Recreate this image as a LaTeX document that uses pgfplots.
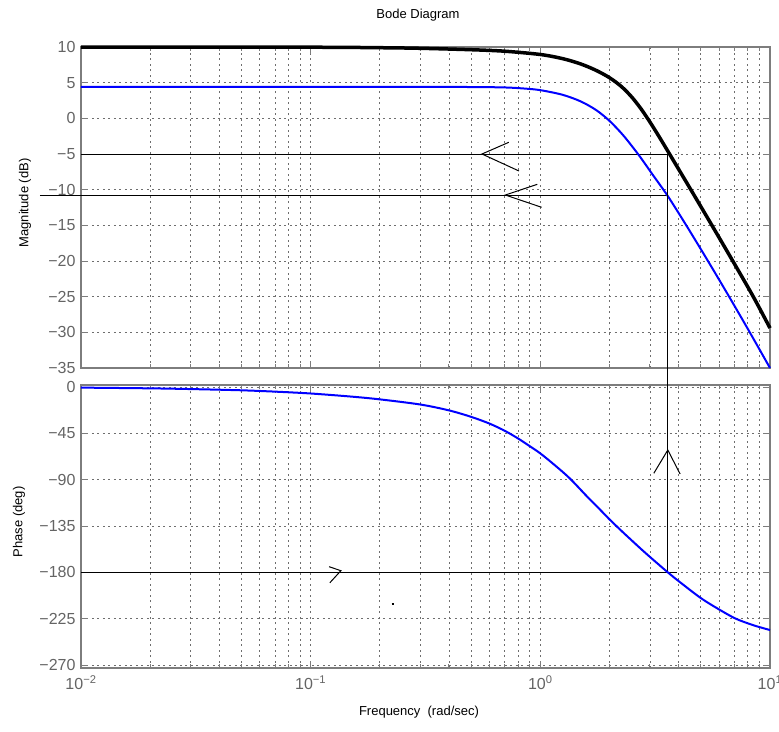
\documentclass[border=0pt]{standalone}
\usepackage{fontspec}
\setmainfont{Liberation Sans}
\usepackage{pgfplots}
\pgfplotsset{compat=1.18}

\definecolor{mblue}{RGB}{0,0,255}
\definecolor{tickgray}{RGB}{100,100,100}
\definecolor{boxgray}{RGB}{125,125,125}
\definecolor{gridgray}{RGB}{110,110,110}

\tikzset{note/.style={black, line width=1pt}}

\begin{document}
\begin{tikzpicture}
\path[use as bounding box] (0,0) rectangle (779pt,-731pt);

% magnitude
\begin{axis}[
    scale only axis, anchor=north west,
    at={(81pt,-47pt)}, width=689pt, height=321pt,
    xmode=log, xmin=0.01, xmax=10,
    xtick={0.01,0.1,1,10},
    minor xtick={0.02,0.03,0.04,0.05,0.06,0.07,0.08,0.09,
                 0.2,0.3,0.4,0.5,0.6,0.7,0.8,0.9,
                 2,3,4,5,6,7,8,9},
    xticklabels={},
    ymin=-35, ymax=10,
    ytick={-35,-30,-25,-20,-15,-10,-5,0,5,10},
    yticklabels={−35,−30,−25,−20,−15,−10,−5,0,5,10},
    axis line style={boxgray, line width=1.2pt},
    tick align=inside, tick pos=both,
    major tick length=7pt, minor tick length=4pt,
    tick style={boxgray, line width=0.9pt},
    xmajorgrids, xminorgrids, ymajorgrids,
    major grid style={gridgray, line width=0.8pt, dash pattern=on 2pt off 3.5pt},
    minor grid style={gridgray, line width=0.8pt, dash pattern=on 2pt off 3.5pt},
    ticklabel style={font=\fontsize{16}{19}\selectfont, text=tickgray},
    yticklabel style={xshift=-2pt},
    clip=false,
  ]
  \addplot[note] coordinates {(0.01,-5) (3.59,-5)};
  \addplot[note] coordinates {(0.00662,-10.75) (3.59,-10.75)};
  \addplot[note] coordinates {(3.59,-5) (3.59,-35)};
  \addplot[note] coordinates {(0.729,-3.36) (0.557,-5) (0.807,-7.38)};
  \addplot[note] coordinates {(0.970,-9.25) (0.704,-10.75) (1.013,-12.47)};

  \addplot[mblue, line width=2pt, smooth] coordinates {
    (0.01,4.4) (0.1,4.4) (0.3,4.4) (0.5,4.39) (0.7,4.33) (0.85,4.18)
    (1.0,3.95) (1.25,3.3) (1.5,2.37) (1.75,1.16) (2.0,-0.35) (2.3,-2.41)
    (2.69,-5.2) (3.1,-8.0) (3.59,-10.9) (4.3,-14.9) (5.3,-19.7)
    (6.5,-24.5) (8.0,-29.5) (10,-35.0)
  };
  \addplot[black, line width=3.5pt, smooth] coordinates {
    (0.01,10) (0.1,9.97) (0.2,9.9) (0.3,9.82) (0.5,9.62) (0.7,9.41)
    (1.0,8.95) (1.25,8.37) (1.5,7.62) (1.75,6.72) (2.0,5.7) (2.25,4.48)
    (2.5,2.99) (2.75,1.29) (3.0,-0.51) (3.3,-2.64) (3.65,-4.98)
    (4.56,-10.2) (5.6,-15.06) (6.9,-20.05) (8.45,-24.98) (10,-29.4)
  };
\end{axis}

% phase
\begin{axis}[
    scale only axis, anchor=north west,
    at={(81pt,-385pt)}, width=689pt, height=283pt,
    xmode=log, xmin=0.01, xmax=10,
    xtick={0.01,0.1,1,10},
    minor xtick={0.02,0.03,0.04,0.05,0.06,0.07,0.08,0.09,
                 0.2,0.3,0.4,0.5,0.6,0.7,0.8,0.9,
                 2,3,4,5,6,7,8,9},
    xticklabels={10\textsuperscript{−2},10\textsuperscript{−1},10\textsuperscript{0},10\textsuperscript{1}},
    xticklabel style={yshift=-4pt},
    ymin=-272.9, ymax=1.94,
    ytick={-270,-225,-180,-135,-90,-45,0},
    yticklabels={−270,−225,−180,−135,−90,−45,0},
    axis line style={boxgray, line width=1.2pt},
    tick align=inside, tick pos=both,
    major tick length=7pt, minor tick length=4pt,
    tick style={boxgray, line width=0.9pt},
    xmajorgrids, xminorgrids, ymajorgrids,
    major grid style={gridgray, line width=0.8pt, dash pattern=on 2pt off 3.5pt},
    minor grid style={gridgray, line width=0.8pt, dash pattern=on 2pt off 3.5pt},
    ticklabel style={font=\fontsize{16}{19}\selectfont, text=tickgray},
    yticklabel style={xshift=-2pt},
    clip=false,
  ]
  \addplot[note] coordinates {(0.01,-180) (3.93,-180)};
  \addplot[note] coordinates {(3.59,-180) (3.59,226.3)};
  \addplot[note] coordinates {(3.12,-83.8) (3.59,-61.2) (4.06,-84.5)};
  \addplot[note] coordinates {(0.1203,-174.5) (0.1354,-178.4) (0.1212,-190.1)};
  \addplot[black, line width=1.5pt] coordinates {(0.225,-210.7) (0.231,-210.7)};

  \addplot[mblue, line width=2pt, smooth] coordinates {
    (0.01,-0.6) (0.02,-1.3) (0.03,-2.0) (0.05,-3.2) (0.07,-4.5) (0.1,-6.3)
    (0.15,-9.3) (0.2,-12) (0.3,-17) (0.4,-22.7) (0.5,-29) (0.6,-35.5)
    (0.7,-42.5) (0.8,-50) (0.9,-57.5) (1.0,-64.5) (1.15,-75.5) (1.34,-88.5)
    (1.6,-106.5) (1.8,-118) (2.0,-128.5) (2.25,-139.5) (2.5,-149)
    (2.75,-157.5) (3.0,-165) (3.3,-173) (3.59,-180) (4.0,-188.5)
    (5.0,-205) (6.0,-216) (7.1,-225) (8.5,-231.5) (10,-236)
  };
\end{axis}

\node[font=\fontsize{13}{15}\selectfont] at (418pt,-15pt) {Bode Diagram};
\node[font=\fontsize{13}{15}\selectfont] at (419pt,-712pt) {Frequency\ \ (rad/sec)};
\node[font=\fontsize{13}{15}\selectfont, rotate=90] at (25pt,-203pt) {Magnitude (dB)};
\node[font=\fontsize{13}{15}\selectfont, rotate=90] at (19pt,-522pt) {Phase (deg)};
\end{tikzpicture}
\end{document}
